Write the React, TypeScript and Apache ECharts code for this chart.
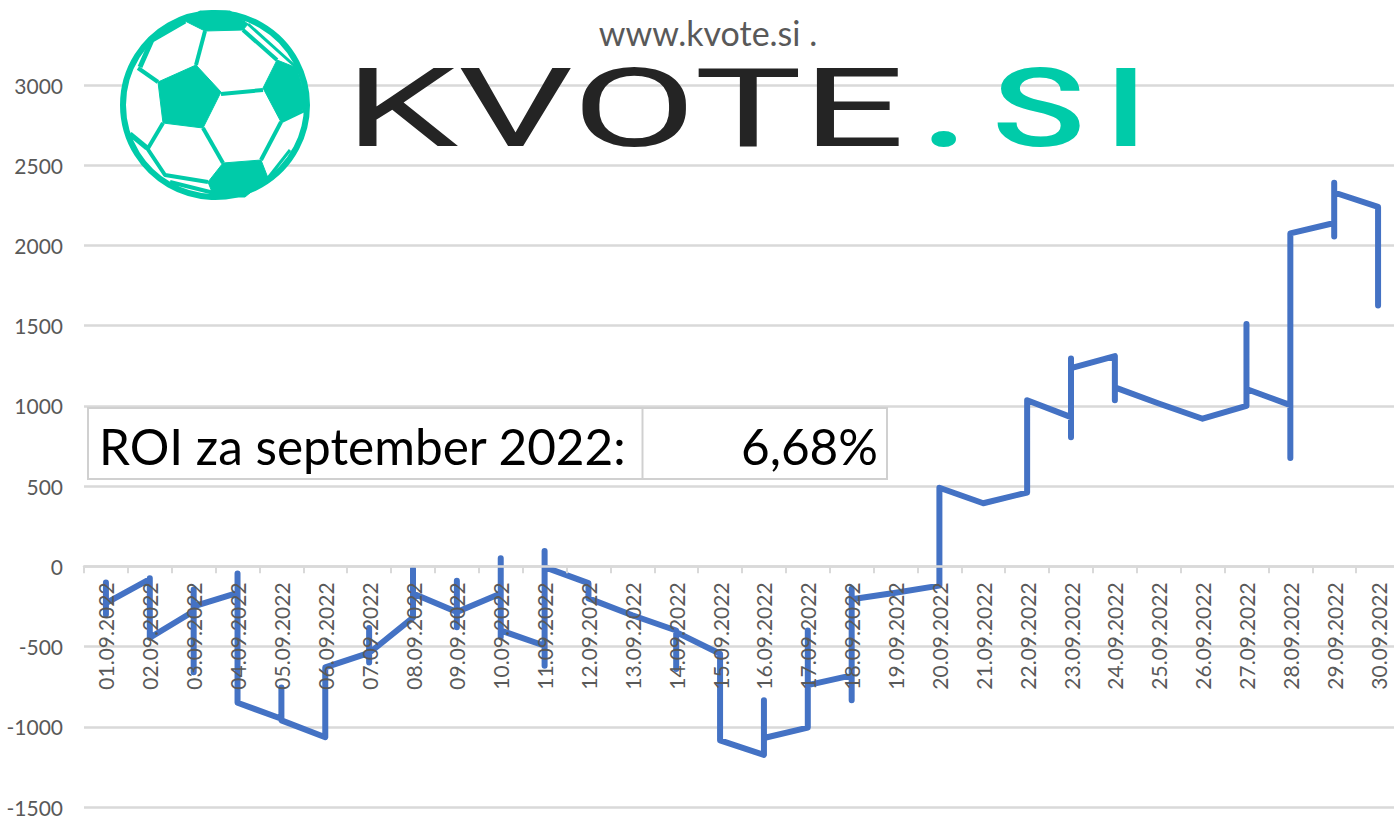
import React, { useEffect, useRef } from "react";
import * as echarts from "echarts";

const categories = [
  "01.09.2022","02.09.2022","03.09.2022","04.09.2022","05.09.2022","06.09.2022","07.09.2022","08.09.2022","09.09.2022","10.09.2022",
  "11.09.2022","12.09.2022","13.09.2022","14.09.2022","15.09.2022","16.09.2022","17.09.2022","18.09.2022","19.09.2022","20.09.2022",
  "21.09.2022","22.09.2022","23.09.2022","24.09.2022","25.09.2022","26.09.2022","27.09.2022","28.09.2022","29.09.2022","30.09.2022",
];

// Running balance readings in the order the line visits them on each day.
const dailyValues: number[][] = [
  [-100, -300, -230],
  [-80, -75, -445],
  [-280, -145, -660, -250],
  [-165, -45, -850],
  [-950, -755, -960],
  [-1065, -630],
  [-540, -385, -600, -540],
  [-320, -15, -170],
  [-285, -90, -380, -285],
  [-170, 50, -440, -400],
  [-495, -620, 95, -5],
  [-105, -200],
  [-305],
  [-400, -640, -410],
  [-545, -1085],
  [-1175, -835, -1070],
  [-1005, -400, -740],
  [-680, -835, -140, -205],
  [-165],
  [-120, 490],
  [393],
  [460, 1035],
  [930, 805, 1295, 1235],
  [1310, 1035, 1115],
  [1015],
  [920],
  [1000, 1510, 1105],
  [1005, 675, 2075],
  [2140, 2055, 2390, 2330],
  [2240, 1625],
];

const yMin = -1500;
const yMax = 3000;
const yStep = 500;

const roiLabel = "ROI za september 2022:";
const roiValue = "6,68%";
const siteText = "www.kvote.si .";
const brandDark = "KVOTE";
const brandDot = ".";
const brandS = "S";
const brandI = "I";

const TEAL = "#00cba9";
const DARK = "#242424";

const tealPoly = (points: number[][]) => ({
  type: "polygon", z: 11, shape: { points }, style: { fill: TEAL, stroke: TEAL, lineWidth: 1, lineJoin: "round" },
});
const tealLine = (points: number[][], lineWidth = 4) => ({
  type: "polyline", z: 11, shape: { points }, style: { stroke: TEAL, fill: "none", lineWidth, lineJoin: "round" },
});
const brand = (text: string, x: number, scaleX: number, fill: string, fontWeight: string | number) => ({
  type: "text", z: 10, x, y: 109, scaleX,
  style: { text, fill, fontFamily: "Roboto", fontSize: 110, fontWeight, textAlign: "left", textVerticalAlign: "middle" },
});

export default function App() {
  const ref = useRef<HTMLDivElement>(null);
  useEffect(() => {
    const chart = echarts.init(ref.current!, undefined, { renderer: "svg" });
    const lineData: [number, number][] = [];
    dailyValues.forEach((vals, i) => vals.forEach((v) => lineData.push([i, v])));
    chart.setOption({
      animation: false,
      backgroundColor: "#ffffff",
      grid: { left: 84, top: 85, width: 1316, height: 722, containLabel: false, outerBoundsMode: "none" },
      xAxis: {
        type: "category",
        data: categories,
        boundaryGap: true,
        position: "bottom",
        offset: -240.67,
        z: 5,
        axisLine: { show: true, onZero: false, lineStyle: { color: "#d9d9d9", width: 2.5 } },
        axisTick: { show: true, length: 7, alignWithLabel: false, interval: 0, lineStyle: { color: "#d9d9d9", width: 2 } },
        axisLabel: {
          interval: 0, rotate: 90, margin: 16, color: "#595959", fontFamily: "Lato", fontSize: 21,
        },
        splitLine: { show: false },
      },
      yAxis: {
        type: "value",
        min: yMin,
        max: yMax,
        interval: yStep,
        axisLine: { show: false },
        axisTick: { show: false },
        axisLabel: {
          margin: 21, color: "#595959", fontFamily: "Lato", fontSize: 21, lineHeight: 20,
          padding: [0, 0, 2, 0], formatter: (v: number) => String(v),
        },
        splitLine: { show: true, lineStyle: { color: "#d9d9d9", width: 2.5 } },
      },
      series: [
        {
          type: "line",
          data: lineData,
          showSymbol: false,
          symbol: "none",
          smooth: false,
          lineStyle: { color: "#4472c4", width: 6, cap: "round", join: "round" },
          z: 2,
        },
      ],
      graphic: [
        { type: "text", z: 10, x: 708, y: 32, style: { text: siteText, fill: "#595959", fontFamily: "Lato", fontSize: 34, textAlign: "center", textVerticalAlign: "middle" } },
        // ball
        { type: "circle", z: 10, shape: { cx: 215, cy: 105, r: 92 }, style: { fill: "#ffffff", stroke: TEAL, lineWidth: 6 } },
        tealPoly([[158, 82], [196, 65], [221, 92], [203, 128], [163, 123]]),
        tealPoly([[277, 60], [297, 68], [308, 107], [281, 122], [263, 88]]),
        tealPoly([[223, 163], [261, 160], [268, 178], [245, 197], [214, 197], [208, 182]]),
        tealPoly([[185, 21], [205, 31], [243, 30], [248, 24], [230, 11], [200, 11]]),
        tealLine([[205, 31], [196, 65]]),
        tealLine([[243, 30], [277, 60]]),
        tealLine([[248, 24], [297, 68]], 3),
        tealLine([[221, 94], [263, 90]]),
        tealLine([[203, 128], [223, 163]]),
        tealLine([[281, 122], [261, 160]]),
        tealLine([[158, 82], [138, 68]]),
        tealLine([[163, 123], [147, 150]]),
        tealLine([[140, 67], [152, 40], [185, 21]], 5),
        tealLine([[147, 148], [130, 134]], 5),
        tealLine([[147, 148], [165, 175], [208, 182]]),
        tealLine([[170, 182], [214, 193]], 4),
        tealLine([[268, 178], [290, 150]], 3),
        tealLine([[281, 122], [306, 110]], 3),
        // brand
        brand(brandDark, 344.5, 1.645, DARK, "normal"),
        brand(brandDot, 922, 1.4, TEAL, "bold"),
        brand(brandS, 992, 1.4, TEAL, 500),
        brand(brandI, 1104, 1.4, TEAL, 500),
        // ROI table
        { type: "rect", z: 10, shape: { x: 88, y: 408, width: 799, height: 71 }, style: { fill: "#ffffff", stroke: "#d0d0d0", lineWidth: 2 } },
        { type: "line", z: 11, shape: { x1: 642.5, y1: 408, x2: 642.5, y2: 479 }, style: { stroke: "#d0d0d0", lineWidth: 2 } },
        { type: "text", z: 12, x: 99, y: 446, style: { text: roiLabel, fill: "#000000", fontFamily: "Lato", fontSize: 49.5, textAlign: "left", textVerticalAlign: "middle" } },
        { type: "text", z: 12, x: 878, y: 446, style: { text: roiValue, fill: "#000000", fontFamily: "Lato", fontSize: 49.5, textAlign: "right", textVerticalAlign: "middle" } },
      ],
    });
    return () => chart.dispose();
  }, []);
  return <div ref={ref} style={{ position: "fixed", left: 0, top: 0, width: 1394, height: 817 }} />;
}
